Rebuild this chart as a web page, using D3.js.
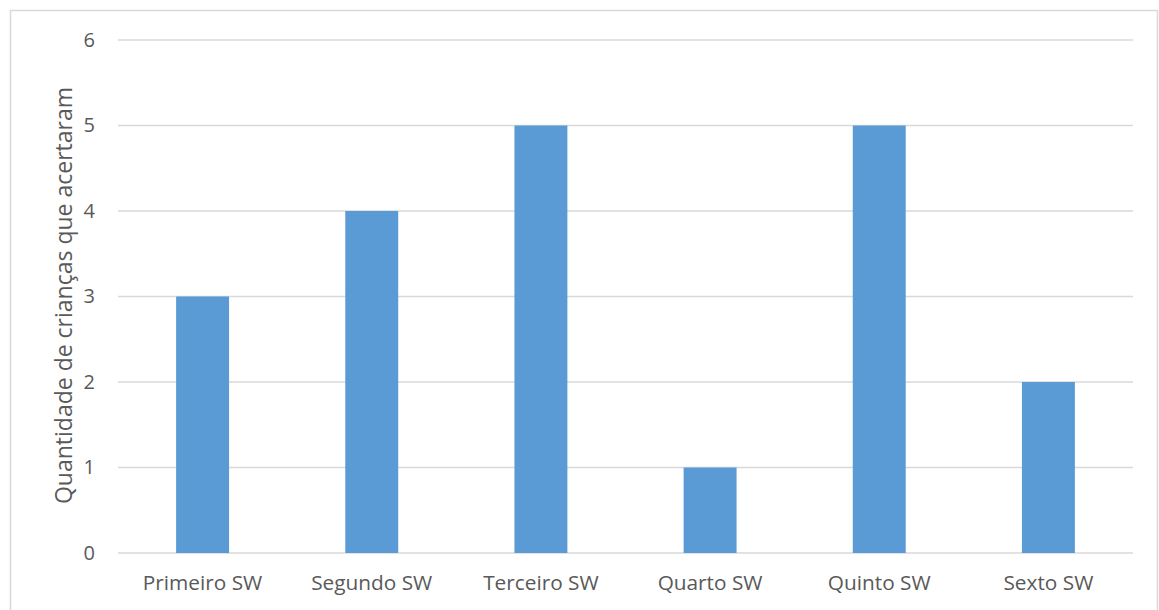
<!DOCTYPE html>
<html>
<head>
<meta charset="utf-8">
<script src="https://cdn.jsdelivr.net/npm/d3@7"></script>
<style>
  html, body { margin: 0; padding: 0; background: #ffffff; }
  svg { display: block; }
  text { font-family: "Open Sans", "Noto Sans", sans-serif; fill: #595959; }
</style>
</head>
<body>
<svg id="chart" width="1159" height="610"></svg>
<script>
// Chart data
const categories = ["Primeiro SW", "Segundo SW", "Terceiro SW", "Quarto SW", "Quinto SW", "Sexto SW"];
const values = [3, 4, 5, 1, 5, 2];
const yTicks = [0, 1, 2, 3, 4, 5, 6];
const yTitle = "Quantidade de crianças que acertaram";

const svg = d3.select("#chart");
const W = 1159, H = 610;
const plot = { left: 118, right: 1133, top: 40, bottom: 553 };
const FONT = '"Open Sans", "Noto Sans", sans-serif';

// Outer chart frame
svg.append("rect")
  .attr("x", 10.5).attr("y", 10.5)
  .attr("width", W - 12).attr("height", H)
  .attr("fill", "none").attr("stroke", "#d9d9d9").attr("stroke-width", 1.5);

const pad = 0.687;
const x = d3.scaleBand()
  .domain(categories)
  .range([plot.left, plot.right])
  .paddingInner(pad)
  .paddingOuter(pad / 2);

const y = d3.scaleLinear()
  .domain([0, 6])
  .range([plot.bottom, plot.top]);

// Horizontal gridlines
svg.append("g")
  .selectAll("line")
  .data(yTicks)
  .join("line")
  .attr("x1", plot.left).attr("x2", plot.right)
  .attr("y1", d => y(d)).attr("y2", d => y(d))
  .attr("stroke", "#d9d9d9").attr("stroke-width", 1.5);

// Bars
svg.append("g")
  .selectAll("rect")
  .data(values)
  .join("rect")
  .attr("x", (d, i) => x(categories[i]))
  .attr("width", x.bandwidth())
  .attr("y", d => y(d))
  .attr("height", d => y(0) - y(d))
  .attr("fill", "#5b9bd5");

// Y axis labels
const yAxis = d3.axisLeft(y).tickValues(yTicks).tickSize(0).tickPadding(0).tickFormat(d3.format("d"));
const gy = svg.append("g")
  .attr("transform", `translate(${plot.left - 23},0)`)
  .call(yAxis)
  .attr("font-size", 20).attr("font-family", FONT);
gy.select(".domain").remove();
gy.selectAll("text").attr("fill", "#595959");

// X axis labels
const xAxis = d3.axisBottom(x).tickSize(0).tickPadding(0);
const gx = svg.append("g")
  .attr("transform", `translate(0,${plot.bottom + 22})`)
  .call(xAxis)
  .attr("font-size", 20.8).attr("font-family", FONT);
gx.select(".domain").remove();
gx.selectAll("text").attr("fill", "#595959");

// Y axis title
svg.append("text")
  .attr("transform", `translate(72,${(plot.top + plot.bottom) / 2 - 1}) rotate(-90)`)
  .attr("text-anchor", "middle")
  .attr("font-size", 23)
  .text(yTitle);
</script>
</body>
</html>
